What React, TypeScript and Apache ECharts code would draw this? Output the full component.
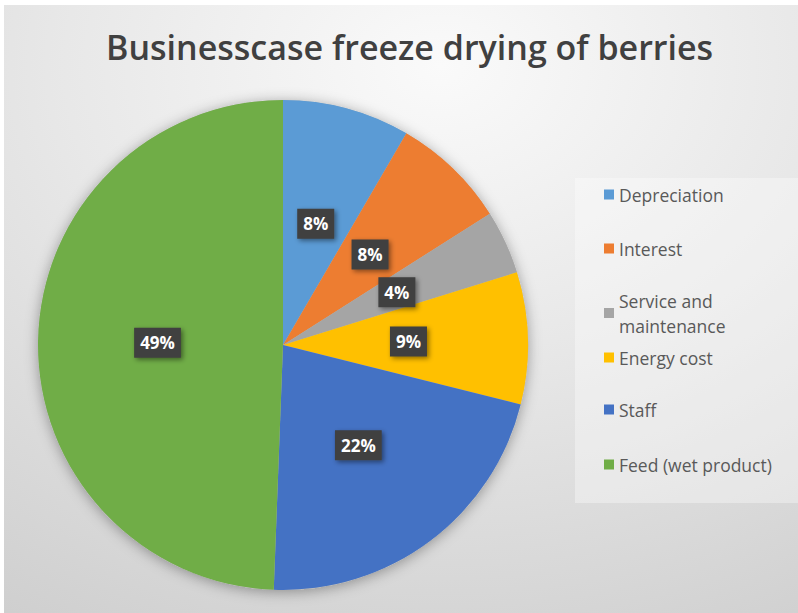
import React, { useEffect, useRef } from "react";
import * as echarts from "echarts";

const TITLE = "Businesscase freeze drying of berries";
const categories = [
  "Depreciation",
  "Interest",
  "Service and maintenance",
  "Energy cost",
  "Staff",
  "Feed (wet product)",
];
const values = [8.4, 7.6, 4.2, 8.7, 21.7, 49.4];
const colors = ["#5B9BD5", "#ED7D31", "#A5A5A5", "#FFC000", "#4472C4", "#70AD47"];
const legendTops = [182, 236, 288, 345, 397, 452];

export default function App() {
  const ref = useRef<HTMLDivElement>(null);
  useEffect(() => {
    if (!ref.current) return;
    const chart = echarts.init(ref.current, null, { renderer: "svg" });
    const legends = categories.map((name, i) => ({
      data: [name],
      orient: "vertical",
      left: 604,
      top: legendTops[i],
      itemWidth: 10,
      itemHeight: 10,
      itemGap: 4,
      icon: "rect",
      padding: 0,
      formatter: (n: string) => (n === "Service and maintenance" ? "Service and\nmaintenance" : n),
      textStyle: {
        fontFamily: "Open Sans",
        fontSize: 17.5,
        color: "#595959",
        lineHeight: 25,
      },
    }));
    chart.setOption({
      animation: false,
      backgroundColor: "#ffffff",
      title: {
        text: TITLE,
        left: 101,
        top: 25,
        textStyle: {
          fontFamily: "Open Sans",
          fontSize: 34,
          fontWeight: 600,
          color: "#404040",
        },
      },
      graphic: [
        {
          type: "rect",
          z: -10,
          silent: true,
          shape: { x: 4, y: 5, width: 794, height: 608 },
          style: {
            fill: new echarts.graphic.RadialGradient(0.55, 0.1, 1.05, [
              { offset: 0, color: "#fafafa" },
              { offset: 0.45, color: "#e8e8e8" },
              { offset: 1, color: "#cfcfcf" },
            ]),
          },
        },
        {
          type: "rect",
          z: -5,
          silent: true,
          shape: { x: 575, y: 178, width: 223, height: 325 },
          style: { fill: "rgba(255,255,255,0.35)" },
        },
      ],
      legend: legends,
      series: [
        {
          type: "pie",
          name: "shadow",
          silent: true,
          center: [283, 345],
          radius: [0, 245],
          z: 1,
          data: [{ value: 1, name: "__shadow" }],
          itemStyle: {
            color: "#bbbbbb",
            shadowBlur: 14,
            shadowColor: "rgba(0,0,0,0.35)",
            shadowOffsetY: 2,
          },
          label: { show: false },
          labelLine: { show: false },
        },
        {
          type: "pie",
          name: "Cost",
          center: [283, 345],
          radius: [0, 245],
          startAngle: 90,
          clockwise: true,
          percentPrecision: 0,
          z: 2,
          data: categories.map((name, i) => ({
            name,
            value: values[i],
            itemStyle: { color: colors[i] },
          })),
          itemStyle: { borderWidth: 0 },
          label: {
            show: true,
            position: "inside",
            formatter: "{d}%",
            fontFamily: "Open Sans",
            fontWeight: "bold",
            fontSize: 17,
            color: "#ffffff",
            backgroundColor: "#3f3f3f",
            padding: [7, 6, 6, 6],
            shadowColor: "rgba(0,0,0,0.45)",
            shadowBlur: 5,
            shadowOffsetX: 2,
            shadowOffsetY: 2,
          },
          labelLine: { show: false },
          emphasis: { disabled: true },
        },
      ],
    });
    return () => chart.dispose();
  }, []);
  return (
    <div
      ref={ref}
      style={{ position: "fixed", left: 0, top: 0, width: 798, height: 613 }}
    />
  );
}
